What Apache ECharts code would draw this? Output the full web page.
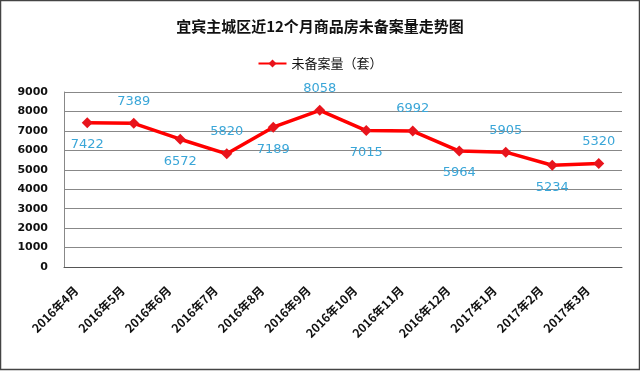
<!DOCTYPE html>
<html><head><meta charset="utf-8">
<script src="https://cdn.jsdelivr.net/npm/echarts@6/dist/echarts.min.js"></script>
<style>html,body{margin:0;padding:0;background:#fff}#c{width:640px;height:371px}</style>
</head><body><div id="c"></div>
<script>
var categories = ['2016年4月','2016年5月','2016年6月','2016年7月','2016年8月','2016年9月','2016年10月','2016年11月','2016年12月','2017年1月','2017年2月','2017年3月'];
var values = [7422,7389,6572,5820,7189,8058,7015,6992,5964,5905,5234,5320];
var labelPos = ['bottom','top','bottom','top','bottom','top','bottom','top','bottom','top','bottom','top'];
var seriesName = '未备案量（套）';
var titleText = '宜宾主城区近12个月商品房未备案量走势图';

var chart = echarts.init(document.getElementById('c'));
chart.setOption({
  animation:false,
  backgroundColor:'#fff',
  title:{text:titleText,left:'center',top:14,textStyle:{fontSize:15,fontWeight:'bold',color:'#111',fontFamily:'Noto Sans CJK SC'}},
  legend:{top:52,left:'center',itemWidth:28,itemHeight:10,itemGap:4,textStyle:{fontSize:13,color:'#111',fontFamily:'Noto Sans CJK SC'},
    data:[{name:seriesName}]},
  graphic:[{type:'rect',shape:{x:0.5,y:0.5,width:639,height:369},style:{fill:'none',stroke:'#444',lineWidth:1.5},silent:true}],
  grid:{left:64,right:18,top:92,bottom:104},
  xAxis:{type:'category',data:categories,boundaryGap:true,
    axisLine:{lineStyle:{color:'#555'}},axisTick:{show:false},
    axisLabel:{rotate:45,fontSize:12,fontWeight:'bold',color:'#111',margin:10,padding:[0,16,0,0],interval:0,fontFamily:'Noto Sans CJK SC'}},
  yAxis:{type:'value',min:0,max:9000,interval:1000,
    axisLine:{show:true,lineStyle:{color:'#888'}},axisTick:{show:false},
    axisLabel:{fontSize:11,color:'#111',fontWeight:'bold',margin:16,fontFamily:'DejaVu Sans',formatter:function(v){return String(v);}},
    splitLine:{lineStyle:{color:'#888',width:1}}},
  series:[{name:seriesName,type:'line',data:values.map(function(v,i){return {value:v,label:{position:labelPos[i]}};}),
    symbol:'diamond',symbolSize:11,
    lineStyle:{color:'#ff0000',width:3.5},itemStyle:{color:'#e8141c'},
    label:{show:true,distance:10,color:'#3aa6d8',fontSize:13,fontFamily:'DejaVu Sans'}}]
});
</script></body></html>
